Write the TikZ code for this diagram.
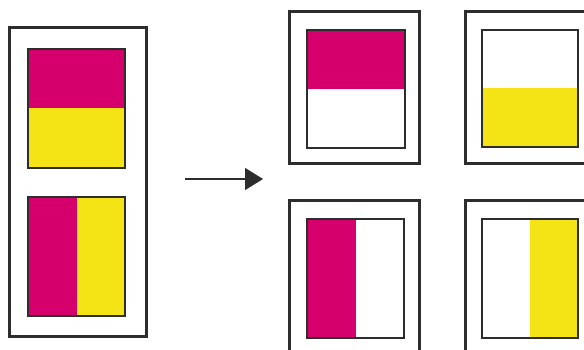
\documentclass[tikz,border=0pt]{standalone}
\usepackage{tikz}
\usetikzlibrary{arrows.meta,positioning}
\definecolor{inkmag}{RGB}{213,0,108}
\definecolor{inkyel}{RGB}{244,228,22}
\definecolor{framegray}{RGB}{45,45,45}

\begin{document}
\begin{tikzpicture}[
  x=1pt, y=-1pt,
  sheet/.style={
    rectangle, draw=framegray, line width=3pt, fill=white,
    minimum width=130pt, minimum height=152pt, inner sep=0pt
  },
  plate/.style={
    rectangle, draw=framegray, line width=2pt,
    minimum width=97pt, minimum height=119pt, inner sep=0pt
  },
  hsplit/.style 2 args={path picture={
    \fill[#1] (path picture bounding box.north west) rectangle (path picture bounding box.east);
    \fill[#2] (path picture bounding box.west) rectangle (path picture bounding box.south east);
  }},
  vsplit/.style 2 args={path picture={
    \fill[#1] (path picture bounding box.north west) rectangle (path picture bounding box.south);
    \fill[#2] (path picture bounding box.north) rectangle (path picture bounding box.south east);
  }},
  flow/.style={draw=framegray, line width=1.5pt, -{Triangle[length=18pt,width=22pt]}}
]
  \useasboundingbox (0,0) rectangle (584,350);
  \clip (0,0) rectangle (584,350);

  % combined sheet
  \node[sheet, minimum width=137pt, minimum height=308pt] (src) at (77.5,182) {};
  \node[plate, hsplit={inkmag}{inkyel}] (srcTop) at (76.5,108.5) {};
  \node[plate, vsplit={inkmag}{inkyel}] (srcBot) at (76.5,256.5) {};

  % separations
  \node[sheet] (sepA) at (354,88) {};
  \node[sheet] (sepB) at (530,88) {};
  \node[sheet] (sepC) at (354,277) {};
  \node[sheet] (sepD) at (530,277) {};
  \node[plate, minimum width=98pt, minimum height=118pt, hsplit={inkmag}{white}] (plateA) at (356,89) {};
  \node[plate, minimum width=96pt, minimum height=117pt, hsplit={white}{inkyel}] (plateB) at (530,88.5) {};
  \node[plate, vsplit={inkmag}{white}] (plateC) at (355.5,278.5) {};
  \node[plate, minimum width=96pt, vsplit={white}{inkyel}] (plateD) at (530,278.5) {};

  \coordinate (from) at (185,179);
  \coordinate (to) at (263,179);
  \draw[flow] (from) -- (to);
\end{tikzpicture}
\end{document}
